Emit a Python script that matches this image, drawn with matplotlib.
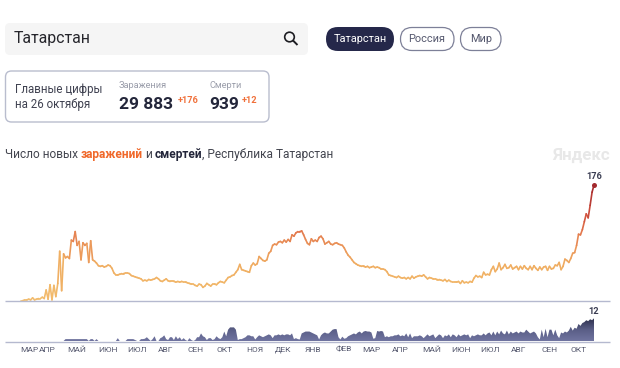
import numpy as np
import matplotlib
matplotlib.use('Agg')
import matplotlib.pyplot as plt
from matplotlib.collections import LineCollection
from matplotlib.colors import LinearSegmentedColormap
from matplotlib.patches import FancyBboxPatch, Circle, PathPatch
from matplotlib.path import Path

plt.rcParams['font.family'] = ['Roboto', 'DejaVu Sans']

cases = [
 0,0,1,1,2,1,4,1,2,3,
 3,5,3,16,2,24,1,23,6,26,
 75,15,71,65,67,64,92,90,105,84,
 90,62,88,84,87,58,91,62,60,57,
 53,52,53,51,52,54,53,49,42,39,
 39,40,41,41,42,42,41,38,37,36,
 35,34,33,30,31,30,32,31,32,33,
 35,33,30,29,31,33,30,29,29,29,
 28,29,28,29,28,28,27,26,25,25,
 23,22,25,24,20,22,26,24,22,25,
 25,24,27,29,28,27,31,35,36,38,
 39,43,47,55,47,46,45,44,43,53,
 57,54,56,67,64,61,60,62,72,75,
 84,86,85,89,90,88,92,89,93,90,
 100,98,103,105,105,106,100,93,87,85,
 94,90,92,90,96,98,94,86,88,90,
 86,85,87,88,86,85,84,80,74,69,
 66,62,58,56,54,53,52,52,51,52,
 50,51,52,50,51,50,48,48,47,44,
 39,38,37,36,35,37,35,34,35,33,
 35,33,37,34,36,37,38,37,39,36,
 33,35,34,33,33,32,32,31,30,32,
 29,31,29,28,28,28,29,26,30,27,
 28,27,29,28,34,38,36,37,35,43,
 39,40,39,47,52,44,48,57,47,50,
 55,49,50,54,48,50,52,47,52,48,
 53,49,47,52,47,53,49,46,51,47,
 51,52,46,52,48,49,54,53,58,47,
 52,63,61,58,64,72,73,84,101,100,
 108,120,132,126,145,165,176]

deaths = [
 0,0,0,0,0,0,0,0,0,0,
 0,0,0,0,0,0,0,0,0,0,
 0,0,0,1,1,1,1,1,1,1,
 1,1,1,1,1,0,1,1,0,1,
 0,0,0,0,0,0,0,0,0,0,
 1.5,0,0,0,0,1,1,1,1,0.5,
 0,0,1,1,1.2,2,1,0,1,2.5,
 0,0,1.5,2,3,1,0.5,2,2,0.5,
 2.5,1,2,0.5,1.5,0.5,0,1.5,0.5,0,
 0.5,2,2,4,2.5,2,0.5,1.5,1.5,0.5,
 1,2.5,1.5,1,2,5,2.5,6,7.2,7.2,
 7.2,6,0.5,1,1,1.5,2,3,3,2.5,
 2.5,0.8,2,3,2.5,2,2.5,3,3.5,3,
 1.5,3,3,3.5,3,3.5,3,3.5,3.5,3,
 4,1,1.5,1,0.8,4,4.5,5,5,5,
 4.5,4,3.5,3,0.8,3,4,4.5,4,4,
 5,6,6.3,6.3,2,0.8,2.3,1.2,1.5,2.5,
 3,3.5,4,3.5,4.5,5,4,5,5.3,5,
 5,4.5,1.2,1.5,5.3,5,5.3,5,2,2.5,
 2,2.5,2.5,3,3,3.5,2.5,3,2.5,4,
 2,4,1.5,2.5,2.5,2.5,3,2.5,1.5,2.5,
 3.5,2.5,3,3.5,1.5,2.5,3.5,3,1.5,3,
 2.5,3.5,2,3.5,3,2,3.5,2.5,3,3.5,
 3,3.5,1.5,3,2.5,3,3.5,3,3,4,
 3,4,4.5,3,5,3,5,3.5,5.5,4,
 3.5,5.5,3.5,5,4,4.5,5,4,5,4.5,
 4.5,6,5,4,4.5,5,4,2,0.8,6,
 2,6.5,2,6,6,3,6,3,1.5,4.5,
 4,5,4.5,5.5,7.5,5.5,7,6.5,9,8,
 9.5,10,11,10.5,11.5,11,12]

days = np.arange(len(cases)) * 2

month_days = [9,27,58,90,120,149,180,210,242,271,302,334,362,392,424,455,485,514,546,576]
month_labels = ['МАР','АПР','МАЙ','ИЮН','ИЮЛ','АВГ','СЕН','ОКТ','НОЯ','ДЕК','ЯНВ','ФЕВ',
                'МАР','АПР','МАЙ','ИЮН','ИЮЛ','АВГ','СЕН','ОКТ']

W, H = 620, 368
fig = plt.figure(figsize=(W/100, H/100), dpi=100, facecolor='white')

def rect(top, bottom):
    return [0, 1 - bottom/H, 1, (bottom - top)/H]

px_per_day = 573 / days[-1]
xlim = (-21/px_per_day, (W-21)/px_per_day)

# main chart
ax = fig.add_axes(rect(170, 300.5))
ax.set_xlim(*xlim)
ax.set_ylim(0, 176 * 130.5/115.5)
ax.axis('off')
cmap = LinearSegmentedColormap.from_list('c', [(0,'#f2bd6e'),(0.3,'#f0ae62'),(0.48,'#ea9257'),
                                               (0.6,'#e2764c'),(0.75,'#cf4f3d'),(1,'#a32a2e')])
pts = np.column_stack([days, cases])
segs = np.stack([pts[:-1], pts[1:]], axis=1)
lc = LineCollection(segs, cmap=cmap, linewidths=1.2, capstyle='round', joinstyle='round')
lc.set_array((np.array(cases[:-1]) + np.array(cases[1:]))/2/176)
lc.set_clim(0, 1)
lc.set_clip_on(False)
ax.add_collection(lc)
ax.plot(days[-1], cases[-1], 'o', ms=3.6, color='#a32a2e', mew=0, clip_on=False)
ax.annotate(str(cases[-1]), (days[-1], cases[-1]), xytext=(0, 2.6), textcoords='offset points',
            ha='center', va='bottom', fontsize=6.6, fontweight='bold', color='#3a3d52')

# deaths chart
ax2 = fig.add_axes(rect(308, 341))
ax2.set_xlim(*xlim)
ax2.set_ylim(0, 33/1.89)
for s in ax2.spines.values():
    s.set_visible(False)
ax2.set_yticks([])
ax2.set_xticks(month_days)
ax2.set_xticklabels(month_labels, fontsize=6.0, color='#55586e', va='baseline')
ax2.tick_params(axis='x', length=0, pad=7.9)
ax2.patch.set_alpha(0)
gcmap = LinearSegmentedColormap.from_list('g', ['#7074a0', '#5a5e86', '#2c2f4c'])
grad = np.linspace(0, 1, 64).reshape(-1, 1)
im = ax2.imshow(grad, origin='lower', aspect='auto', cmap=gcmap,
                extent=(days[0], days[-1], 0, max(deaths)), zorder=2)
poly = ax2.fill_between(days, deaths, 0, color='none', lw=0)
im.set_clip_path(poly.get_paths()[0], transform=ax2.transData)
ax2.set_xlim(*xlim)
ax2.set_ylim(0, 33/1.89)
ax2.annotate(str(deaths[-1]), (days[-1], deaths[-1]), xytext=(0, 1.5), textcoords='offset points',
             ha='center', va='bottom', fontsize=6.6, fontweight='bold', color='#3a3d52')

# page furniture in pixel coordinates
ui = fig.add_axes([0, 0, 1, 1], zorder=5)
ui.set_xlim(0, W)
ui.set_ylim(H, 0)
ui.axis('off')
ui.patch.set_alpha(0)

def rbox(x0, y0, x1, y1, r, fc, ec='none', lw=1.0):
    ui.add_patch(FancyBboxPatch((x0+r, y0+r), x1-x0-2*r, y1-y0-2*r,
                                boxstyle=f'round,pad={r},rounding_size={r}', fc=fc, ec=ec, lw=lw))

rbox(5, 23, 308, 55, 5, '#f5f5f5')
ui.text(14, 38, 'Татарстан', fontsize=11.4, color='#26262c', va='center')
ui.add_patch(Circle((289.5, 37), 4.8, fc='none', ec='#1d1d22', lw=1.2))
ui.add_patch(PathPatch(Path([(293, 40.5), (297.5, 45)]), ec='#1d1d22', lw=1.4))

rbox(326, 27, 394, 51, 12, '#25284a')
ui.text(360, 39.5, 'Татарстан', fontsize=7.9, color='white', ha='center', va='center')
rbox(400.5, 27.5, 454, 50.5, 11.5, 'white', '#7d8098', 0.9)
ui.text(427, 39.5, 'Россия', fontsize=7.9, color='#55586e', ha='center', va='center')
rbox(460.5, 27.5, 501, 50.5, 11.5, 'white', '#7d8098', 0.9)
ui.text(481, 39.5, 'Мир', fontsize=7.9, color='#55586e', ha='center', va='center')

rbox(5.5, 71, 269, 122, 6, 'white', '#b9bdce', 1.0)
ui.text(15, 89.5, 'Главные цифры', fontsize=8.3, color='#3f4150', va='center')
ui.text(15, 104.5, 'на 26 октября', fontsize=8.3, color='#3f4150', va='center')
ui.text(119, 86, 'Заражения', fontsize=6.6, color='#9a9daa', va='center')
ui.text(119, 104.5, '29 883', fontsize=12.5, fontweight='bold', color='#23263a', va='center')
ui.text(178, 100.5, '+176', fontsize=6.6, fontweight='bold', color='#f0703a', va='center')
ui.text(209, 86, 'Смерти', fontsize=6.6, color='#9a9daa', va='center')
ui.text(209, 104.5, '939', fontsize=12.5, fontweight='bold', color='#23263a', va='center')
ui.text(242, 100.5, '+12', fontsize=6.6, fontweight='bold', color='#f0703a', va='center')

fig.canvas.draw()
r = fig.canvas.get_renderer()
x = 5
for s, c, w in [('Число новых ', '#43454f', 'normal'), ('заражений', '#f0682a', 'bold'),
                (' и ', '#43454f', 'normal'), ('смертей', '#23263a', 'bold'),
                (', Республика Татарстан', '#43454f', 'normal')]:
    t = ui.text(x, 154.5, s.replace(' ', '\u00a0'), fontsize=8.55, color=c, fontweight=w, va='center')
    x = t.get_window_extent(r).x1 - 0.3

ui.text(610, 155, 'Яндекс', fontsize=12.2, fontweight='bold', color='#e8e8e8', ha='right', va='center')

ui.plot([5, 610], [300.5, 300.5], color='#b5b9cf', lw=1.0, solid_capstyle='butt')
ui.plot([5, 610], [341.5, 341.5], color='#b5b9cf', lw=1.0, solid_capstyle='butt')

fig.savefig('out.png', dpi=100)
